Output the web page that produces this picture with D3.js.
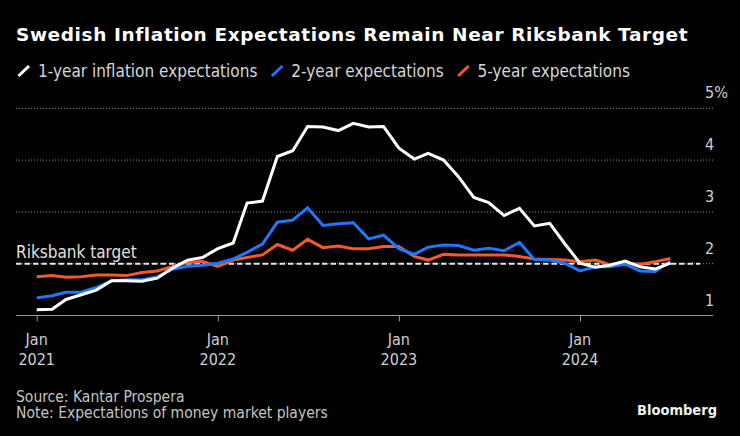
<!DOCTYPE html>
<html>
<head>
<meta charset="utf-8">
<script src="https://cdn.jsdelivr.net/npm/d3@7"></script>
<style>
  html, body { margin: 0; padding: 0; background: #000; }
  svg { display: block; }
  .cond { font-family: "DejaVu Sans Condensed", "DejaVu Sans", sans-serif; font-stretch: condensed; }
</style>
</head>
<body>
<div id="chart"></div>
<script>
// ---- Data (monthly, Jan 2021 – Jul 2024) ----
const startYear = 2021;
const oneYear = [1.11, 1.12, 1.31, 1.40, 1.49, 1.67, 1.67, 1.66, 1.72, 1.91, 2.07, 2.12,
                 2.29, 2.40, 3.17, 3.21, 4.07, 4.18, 4.65, 4.64, 4.57, 4.71, 4.64, 4.65,
                 4.23, 4.02, 4.13, 4.00, 3.68, 3.28, 3.18, 2.93, 3.07, 2.73, 2.78, 2.39,
                 2.01, 1.93, 1.97, 2.05, 1.94, 1.90, 2.01];
const twoYear = [1.34, 1.38, 1.45, 1.45, 1.54, 1.67, 1.69, 1.69, 1.75, 1.89, 1.95, 1.97,
                 2.01, 2.09, 2.22, 2.38, 2.80, 2.84, 3.08, 2.74, 2.77, 2.79, 2.48, 2.55,
                 2.29, 2.18, 2.32, 2.36, 2.35, 2.26, 2.30, 2.25, 2.41, 2.08, 2.07, 2.01,
                 1.86, 1.94, 1.94, 1.99, 1.86, 1.85, 2.05];
const fiveYear = [1.75, 1.77, 1.74, 1.75, 1.78, 1.78, 1.77, 1.83, 1.86, 1.94, 2.03, 2.04,
                  1.95, 2.07, 2.12, 2.17, 2.37, 2.26, 2.47, 2.31, 2.34, 2.29, 2.29, 2.33,
                  2.33, 2.14, 2.07, 2.18, 2.17, 2.17, 2.17, 2.17, 2.14, 2.09, 2.08, 2.07,
                  2.04, 2.07, 1.98, 2.01, 1.99, 2.04, 2.10];
const seriesNames = ["1-year inflation expectations", "2-year expectations", "5-year expectations"];
const seriesColors = ["#ffffff", "#1e78ff", "#f25a27"];
const yTicks = [1, 2, 3, 4, 5];
const xTickYears = [2021, 2022, 2023, 2024];
const target = 2;
const targetLabel = "Riksbank target";
const title = "Swedish Inflation Expectations Remain Near Riksbank Target";
const sourceText = "Source: Kantar Prospera";
const noteText = "Note: Expectations of money market players";

// ---- Setup ----
const W = 740, H = 436;
const svg = d3.select("#chart").append("svg").attr("width", W).attr("height", H);
svg.append("rect").attr("width", W).attr("height", H).attr("fill", "#000");

const dates = oneYear.map((_, i) => new Date(startYear, i, 1));
const x = d3.scaleTime().domain([new Date(2021, 0, 1), new Date(2024, 0, 1)]).range([36.7, 580]);
const y = d3.scaleLinear().domain([1, 5]).range([315.5, 108.3]);
const gridLeft = 16, gridRight = 713;

// Title
svg.append("text").attr("x", 16).attr("y", 41).attr("fill", "#fff")
  .attr("font-family", "DejaVu Sans, sans-serif").attr("font-weight", "bold")
  .attr("font-size", 18.5).attr("letter-spacing", 0.6).text(title);

// Legend
let lx = 17;
const legend = svg.append("g");
seriesNames.forEach((name, i) => {
  legend.append("line").attr("x1", lx + 1.5).attr("y1", 76).attr("x2", lx + 12).attr("y2", 66)
    .attr("stroke", seriesColors[i]).attr("stroke-width", 3).attr("stroke-linecap", "butt");
  const t = legend.append("text").attr("class", "cond").attr("x", lx + 21).attr("y", 77)
    .attr("fill", "#d6d6d6").attr("font-size", 17).text(name);
  lx = lx + 21 + t.node().getComputedTextLength() + 13;
});

// Grid lines
svg.append("g").selectAll("line").data(yTicks.filter(d => d > 1)).join("line")
  .attr("x1", gridLeft).attr("x2", gridRight)
  .attr("y1", d => y(d)).attr("y2", d => y(d))
  .attr("stroke", "#8c8c8c").attr("stroke-width", 1).attr("stroke-dasharray", "1,2");

// Y labels
svg.append("g").selectAll("text").data(yTicks).join("text")
  .attr("class", "cond").attr("x", 705).attr("y", d => y(d) - 10)
  .attr("fill", "#d0d0d0").attr("font-size", 16)
  .text(d => d === 5 ? d + "%" : d);

// Target line
svg.append("line").attr("x1", gridLeft).attr("x2", 700)
  .attr("y1", y(target)).attr("y2", y(target))
  .attr("stroke", "#e6e6e6").attr("stroke-width", 2).attr("stroke-dasharray", "5.5,3");
svg.append("text").attr("class", "cond").attr("x", 16).attr("y", y(target) - 5.5)
  .attr("fill", "#e0e0e0").attr("font-size", 17).text(targetLabel);

// X axis
const xAxis = d3.axisBottom(x)
  .tickValues(xTickYears.map(yr => new Date(yr, 0, 1)))
  .tickSize(6).tickSizeOuter(0).tickFormat(() => "");
const gx = svg.append("g").attr("transform", `translate(0,${y(1)})`).call(xAxis);
gx.select(".domain").remove();
gx.selectAll(".tick line").attr("stroke", "#9a9a9a");
svg.append("line").attr("x1", gridLeft).attr("x2", gridRight)
  .attr("y1", y(1)).attr("y2", y(1)).attr("stroke", "#9a9a9a").attr("stroke-width", 1);

const xl = svg.append("g").selectAll("g").data(xTickYears).join("g")
  .attr("transform", d => `translate(${x(new Date(d, 0, 1))},0)`);
xl.append("text").attr("class", "cond").attr("y", 345).attr("text-anchor", "middle")
  .attr("fill", "#d0d0d0").attr("font-size", 16).text("Jan");
xl.append("text").attr("class", "cond").attr("y", 365).attr("text-anchor", "middle")
  .attr("fill", "#d0d0d0").attr("font-size", 16).text(d => d);

// Series lines (5y, 2y, 1y on top)
const allSeries = [oneYear, twoYear, fiveYear];
const line = d3.line().x((d, i) => x(dates[i])).y(d => y(d));
[2, 1, 0].forEach(k => {
  svg.append("path").datum(allSeries[k]).attr("d", line)
    .attr("fill", "none").attr("stroke", seriesColors[k]).attr("stroke-width", 3)
    .attr("stroke-linejoin", "miter").attr("stroke-linecap", "butt");
});

// Footer
svg.append("text").attr("class", "cond").attr("x", 16).attr("y", 401.5)
  .attr("fill", "#c4c4c4").attr("font-size", 15.5).text(sourceText);
svg.append("text").attr("class", "cond").attr("x", 16).attr("y", 418)
  .attr("fill", "#c4c4c4").attr("font-size", 15.5).text(noteText);
svg.append("text").attr("class", "cond").attr("x", 717).attr("y", 415)
  .attr("text-anchor", "end").attr("fill", "#f2f2f2").attr("font-weight", "bold")
  .attr("font-size", 14.5).text("Bloomberg");
</script>
</body>
</html>
